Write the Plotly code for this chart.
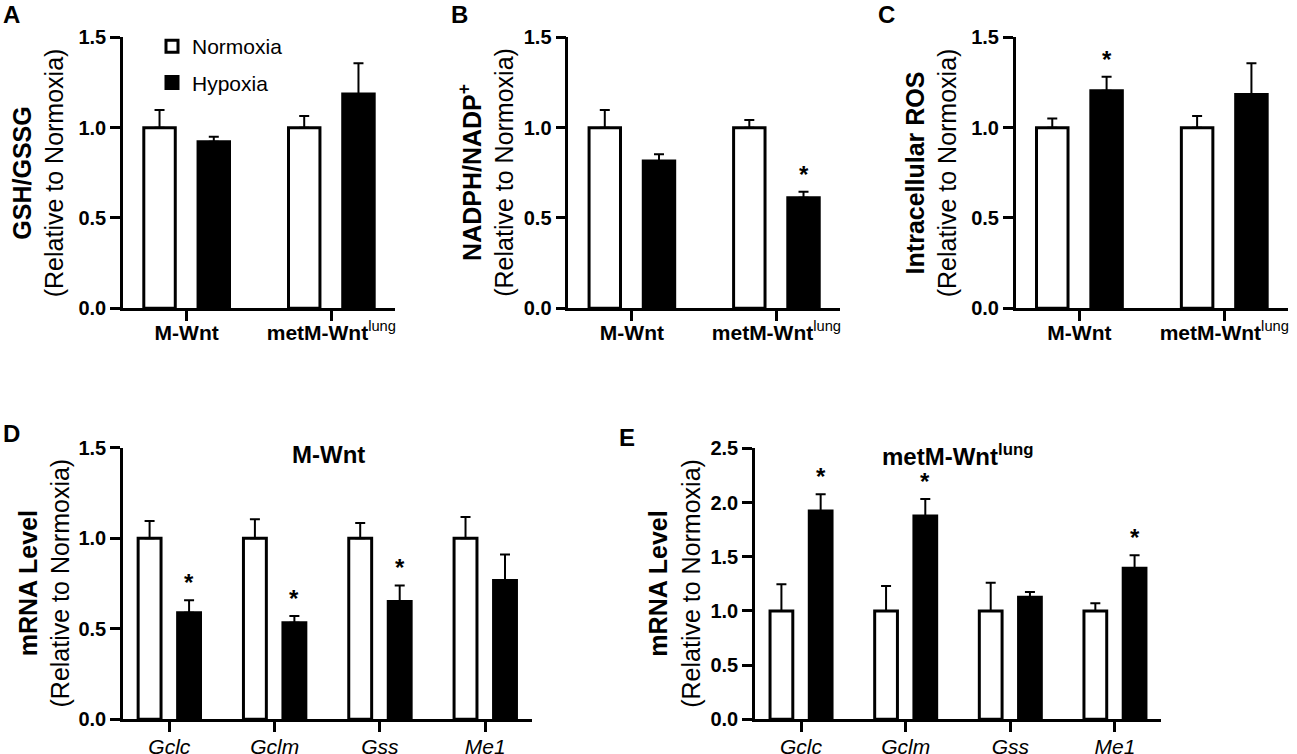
import plotly.graph_objects as go

# ---------------- data ----------------
groups = ["M-Wnt", "metM-Wnt"]
group_labels = ["<b>M-Wnt</b>", "<b>metM-Wnt</b><sup>lung</sup>"]
genes = ["Gclc", "Gclm", "Gss", "Me1"]
gene_labels = ["<i>Gclc</i>", "<i>Gclm</i>", "<i>Gss</i>", "<i>Me1</i>"]

# A: GSH/GSSG
gsh_norm = [1.0, 1.0]
gsh_norm_err = [0.097, 0.064]
gsh_hyp = [0.922, 1.186]
gsh_hyp_err = [0.028, 0.170]
gsh_sig = [False, False]

# B: NADPH/NADP+
nadph_norm = [1.0, 1.0]
nadph_norm_err = [0.097, 0.042]
nadph_hyp = [0.815, 0.612]
nadph_hyp_err = [0.037, 0.033]
nadph_sig = [False, True]

# C: Intracellular ROS
ros_norm = [1.0, 1.0]
ros_norm_err = [0.051, 0.064]
ros_hyp = [1.204, 1.184]
ros_hyp_err = [0.078, 0.172]
ros_sig = [True, False]

# D: mRNA, M-Wnt
mwnt_norm = [1.0, 1.0, 1.0, 1.0]
mwnt_norm_err = [0.095, 0.105, 0.084, 0.117]
mwnt_hyp = [0.588, 0.533, 0.651, 0.767]
mwnt_hyp_err = [0.070, 0.037, 0.088, 0.143]
mwnt_sig = [True, True, True, False]

# E: mRNA, metM-Wnt lung
met_norm = [1.0, 1.0, 1.0, 1.0]
met_norm_err = [0.245, 0.230, 0.260, 0.070]
met_hyp = [1.922, 1.875, 1.125, 1.393]
met_hyp_err = [0.154, 0.157, 0.049, 0.120]
met_sig = [True, True, False, True]

# ---------------- layout helpers ----------------
W, H = 1297, 754
FONT = "Arial, 'Liberation Sans', sans-serif"
BARGAP = 0.25
BARGROUPGAP = 0.42


def px_x(v):
    return v / W


def px_y(v):
    return 1 - v / H


panels = [
    dict(cats=groups, tt=group_labels, n=gsh_norm, ne=gsh_norm_err, h=gsh_hyp, he=gsh_hyp_err, sig=gsh_sig,
         xd=(123, 395), yd=(308.3, 37.3), yr=1.5, letter="A", lp=(11, 15),
         title="<b>GSH/GSSG</b><br>(Relative to Normoxia)", tx=38.5, group=True),
    dict(cats=groups, tt=group_labels, n=nadph_norm, ne=nadph_norm_err, h=nadph_hyp, he=nadph_hyp_err, sig=nadph_sig,
         xd=(568.3, 840), yd=(308.3, 37.3), yr=1.5, letter="B", lp=(459, 14),
         title="<b>NADPH/NADP<sup>+</sup></b><br>(Relative to Normoxia)", tx=486, group=True),
    dict(cats=groups, tt=group_labels, n=ros_norm, ne=ros_norm_err, h=ros_hyp, he=ros_hyp_err, sig=ros_sig,
         xd=(1015.7, 1288), yd=(308.3, 37.3), yr=1.5, letter="C", lp=(887, 14),
         title="<b>Intracellular ROS</b><br>(Relative to Normoxia)", tx=931.5, group=True),
    dict(cats=genes, tt=gene_labels, n=mwnt_norm, ne=mwnt_norm_err, h=mwnt_hyp, he=mwnt_hyp_err, sig=mwnt_sig,
         xd=(123, 531.6), yd=(719.3, 447.7), yr=1.5, letter="D", lp=(11, 433),
         title="<b>mRNA Level</b><br>(Relative to Normoxia)", tx=44, group=False,
         ptitle="<b>M-Wnt</b>", pt=(328, 454)),
    dict(cats=genes, tt=gene_labels, n=met_norm, ne=met_norm_err, h=met_hyp, he=met_hyp_err, sig=met_sig,
         xd=(755, 1161), yd=(719.3, 448.3), yr=2.5, letter="E", lp=(627, 437),
         title="<b>mRNA Level</b><br>(Relative to Normoxia)", tx=675, group=False,
         ptitle="<b>metM-Wnt<sup>lung</sup></b>", pt=(957, 455)),
]

fig = go.Figure()
annotations = []
layout_axes = {}

for i, p in enumerate(panels):
    k = "" if i == 0 else str(i + 1)
    xa, ya = "x" + k, "y" + k
    show = i == 0
    fig.add_trace(go.Bar(
        x=p["cats"], y=p["n"], name="Normoxia", xaxis=xa, yaxis=ya,
        marker=dict(color="white", line=dict(color="black", width=3)),
        error_y=dict(type="data", array=p["ne"], arrayminus=[0] * len(p["n"]), symmetric=False,
                     color="black", thickness=2, width=5),
        showlegend=show, legendgroup="norm", legendrank=1,
    ))
    fig.add_trace(go.Bar(
        x=p["cats"], y=p["h"], name="Hypoxia", xaxis=xa, yaxis=ya,
        marker=dict(color="black", line=dict(color="black", width=3)),
        error_y=dict(type="data", array=p["he"], arrayminus=[0] * len(p["h"]), symmetric=False,
                     color="black", thickness=2, width=5),
        showlegend=show, legendgroup="hyp", legendrank=2,
    ))

    n = len(p["cats"])
    layout_axes["xaxis" + k] = dict(
        domain=[px_x(p["xd"][0]), px_x(p["xd"][1])], anchor=ya, automargin=False,
        type="category", categoryorder="array", categoryarray=p["cats"],
        range=[-0.44, n - 1 + 0.44],
        tickmode="array", tickvals=p["cats"], ticktext=p["tt"],
        showline=True, linewidth=2.5, linecolor="black",
        ticks="outside", ticklen=10, tickwidth=2.5, tickcolor="black",
        ticklabelstandoff=-6 if p["group"] else -3,
        tickfont=dict(family=FONT, size=21, color="black"),
        showgrid=False, zeroline=False, fixedrange=True,
    )
    layout_axes["yaxis" + k] = dict(
        domain=[px_y(p["yd"][0]), px_y(p["yd"][1])], anchor=xa, automargin=False,
        range=[0, p["yr"]], dtick=0.5, tick0=0, tickformat=".1f",
        showline=True, linewidth=2.5, linecolor="black",
        ticks="outside", ticklen=10, tickwidth=2.5, tickcolor="black",
        tickfont=dict(family=FONT, size=20, color="black", weight="bold"),
        showgrid=False, zeroline=False, fixedrange=True,
    )

    annotations.append(dict(text="<b>%s</b>" % p["letter"], xref="paper", yref="paper",
                            x=px_x(p["lp"][0]), y=px_y(p["lp"][1]), xanchor="center", yanchor="middle",
                            showarrow=False, font=dict(family=FONT, size=24, color="black")))
    annotations.append(dict(text=p["title"], xref="paper", yref="paper", textangle=-90,
                            x=px_x(p["tx"]), y=(px_y(p["yd"][0]) + px_y(p["yd"][1])) / 2,
                            xanchor="center", yanchor="middle", showarrow=False,
                            font=dict(family=FONT, size=25, color="black")))
    if "ptitle" in p:
        annotations.append(dict(text=p["ptitle"], xref="paper", yref="paper",
                                x=px_x(p["pt"][0]), y=px_y(p["pt"][1]), xanchor="center", yanchor="middle",
                                showarrow=False, font=dict(family=FONT, size=24, color="black")))
    off = (1 - BARGAP) / 4
    for j, s in enumerate(p["sig"]):
        if s:
            annotations.append(dict(text="<b>*</b>", xref=xa, yref=ya, x=j + off,
                                    y=p["h"][j] + p["he"][j], xanchor="center", yanchor="bottom",
                                    yshift=2, showarrow=False,
                                    font=dict(family=FONT, size=24, color="black")))

fig.update_layout(
    template="none",
    width=W, height=H, autosize=False,
    margin=dict(l=0, r=0, t=0, b=0, pad=0),
    paper_bgcolor="white", plot_bgcolor="white",
    barmode="group", bargap=BARGAP, bargroupgap=BARGROUPGAP,
    font=dict(family=FONT, color="black"),
    showlegend=True,
    legend=dict(x=px_x(152), y=px_y(26), xanchor="left", yanchor="top",
                font=dict(family=FONT, size=21, color="black"),
                traceorder="grouped", tracegroupgap=6, bgcolor="rgba(0,0,0,0)",
                itemclick=False, itemdoubleclick=False),
    annotations=annotations,
    **layout_axes,
)

fig.write_html("out.html", config={"displayModeBar": False, "staticPlot": False},
               post_script="document.body.style.margin='0px';")
